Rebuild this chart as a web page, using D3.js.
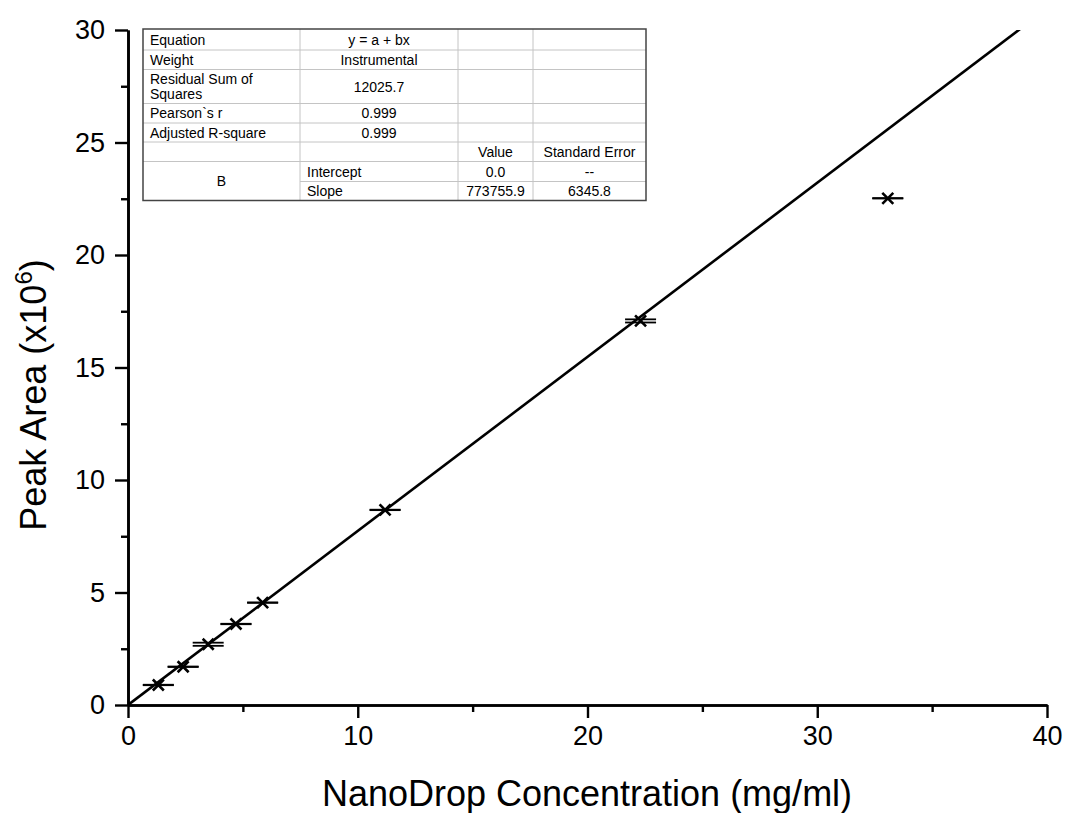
<!DOCTYPE html>
<html>
<head>
<meta charset="utf-8">
<script src="https://cdn.jsdelivr.net/npm/d3@7"></script>
<style>
  html, body { margin: 0; padding: 0; background: #fff; }
  svg { display: block; font-family: "Liberation Sans", Arial, sans-serif; }
</style>
</head>
<body>
<svg id="chart" width="1067" height="813"></svg>
<script>
// Calibration data: NanoDrop concentration (mg/ml) vs. peak area (x10^6)
const concentration = [1.32, 2.40, 3.49, 4.70, 5.86, 11.19, 22.31, 33.07];
const peakArea      = [0.89, 1.70, 2.70, 3.60, 4.55, 8.67, 17.07, 22.52];
const peakAreaErr   = [0.01, 0.01, 0.07, 0.01, 0.01, 0.01, 0.07, 0.01];

// Linear fit y = a + bx (peak area in raw units)
const fitIntercept = 0.0;
const fitSlope = 773755.9;

const xTicks = [0, 10, 20, 30, 40];
const yTicks = [0, 5, 10, 15, 20, 25, 30];
const xMinorTicks = [5, 15, 25, 35];
const yMinorTicks = [2.5, 7.5, 12.5, 17.5, 22.5, 27.5];

// Fit report table
const tableRows = [
  ["Equation", "y = a + bx", "", ""],
  ["Weight", "Instrumental", "", ""],
  ["Residual Sum of\nSquares", "12025.7", "", ""],
  ["Pearson`s r", "0.999", "", ""],
  ["Adjusted R-square", "0.999", "", ""],
  ["", "", "Value", "Standard Error"],
  ["B", "Intercept", "0.0", "--"],
  ["", "Slope", "773755.9", "6345.8"]
];

const svg = d3.select("#chart");
const plot = { left: 128, right: 1047, top: 30, bottom: 705 };

const x = d3.scaleLinear().domain([0, 40]).range([plot.left, plot.right]);
const y = d3.scaleLinear().domain([0, 30]).range([plot.bottom, plot.top]);

svg.append("defs").append("clipPath").attr("id", "plotClip")
  .append("rect")
  .attr("x", plot.left).attr("y", plot.top)
  .attr("width", plot.right - plot.left).attr("height", plot.bottom - plot.top);

// Fit line
const fitY = v => (fitIntercept + fitSlope * v) / 1e6;
svg.append("line")
  .attr("clip-path", "url(#plotClip)")
  .attr("x1", x(0)).attr("y1", y(fitY(0)))
  .attr("x2", x(40)).attr("y2", y(fitY(40)))
  .attr("stroke", "#000").attr("stroke-width", 2.6);

// Axes
const axisStyle = g => {
  g.select(".domain").attr("stroke", "#000").attr("stroke-width", 2.6);
  g.selectAll(".tick line").attr("stroke", "#000").attr("stroke-width", 2.4);
  g.selectAll(".tick text").attr("fill", "#000")
    .style("font-family", "'Liberation Sans', Arial, sans-serif")
    .style("font-size", "27px");
};

svg.append("g").attr("transform", `translate(0,${plot.bottom})`)
  .call(d3.axisBottom(x).tickValues(xMinorTicks).tickSize(7).tickFormat("").tickSizeOuter(0))
  .call(axisStyle);
svg.append("g").attr("transform", `translate(0,${plot.bottom})`)
  .call(d3.axisBottom(x).tickValues(xTicks).tickSize(13).tickPadding(8).tickFormat(d3.format("d")).tickSizeOuter(0))
  .call(axisStyle);

svg.append("g").attr("transform", `translate(${plot.left},0)`)
  .call(d3.axisLeft(y).tickValues(yMinorTicks).tickSize(7).tickFormat("").tickSizeOuter(0))
  .call(axisStyle);
svg.append("g").attr("transform", `translate(${plot.left},0)`)
  .call(d3.axisLeft(y).tickValues(yTicks).tickSize(13).tickPadding(10).tickFormat(d3.format("d")).tickSizeOuter(0))
  .call(axisStyle);

// Axis titles
svg.append("text")
  .attr("x", 587).attr("y", 806)
  .attr("text-anchor", "middle")
  .style("font-size", "36px")
  .text("NanoDrop Concentration (mg/ml)");

const yTitle = svg.append("text")
  .attr("transform", `translate(46,395) rotate(-90)`)
  .attr("text-anchor", "middle")
  .style("font-size", "36px");
yTitle.append("tspan").text("Peak Area (x10");
yTitle.append("tspan").attr("dy", -14).style("font-size", "24px").text("6");
yTitle.append("tspan").attr("dy", 14).text(")");

// Data points with error-bar caps
const pts = concentration.map((c, i) => ({ c, a: peakArea[i], e: peakAreaErr[i] }));
const capHalf = 15.5;
const marks = svg.append("g");
pts.forEach(p => {
  const cx = x(p.c), cy = y(p.a);
  [p.a + p.e, p.a - p.e].forEach(v => {
    marks.append("line")
      .attr("x1", cx - capHalf).attr("x2", cx + capHalf)
      .attr("y1", y(v)).attr("y2", y(v))
      .attr("stroke", "#000").attr("stroke-width", 1.8);
  });
  const s = 5.5;
  marks.append("path")
    .attr("d", `M${cx - s},${cy - s}L${cx + s},${cy + s}M${cx - s},${cy + s}L${cx + s},${cy - s}`)
    .attr("stroke", "#000").attr("stroke-width", 2.6).attr("fill", "none");
});

// Fit report table
const colX = [143, 300, 458, 533, 646];
const rowH = [21, 19.5, 34, 19.5, 19, 19.5, 20, 19];
const rowY = [29];
rowH.forEach(h => rowY.push(rowY[rowY.length - 1] + h));

const tbl = svg.append("g").style("font-size", "14px");
tbl.append("rect")
  .attr("x", colX[0]).attr("y", rowY[0])
  .attr("width", colX[4] - colX[0]).attr("height", rowY[8] - rowY[0])
  .attr("fill", "#fff");

// inner horizontal rules
for (let r = 1; r < 8; r++) {
  const x1 = r === 7 ? colX[1] : colX[0];
  tbl.append("line").attr("x1", x1).attr("x2", colX[4])
    .attr("y1", rowY[r]).attr("y2", rowY[r])
    .attr("stroke", "#c4c4c4").attr("stroke-width", 1);
}
// inner vertical rules
for (let c = 1; c < 4; c++) {
  tbl.append("line").attr("x1", colX[c]).attr("x2", colX[c])
    .attr("y1", rowY[0]).attr("y2", rowY[8])
    .attr("stroke", "#c4c4c4").attr("stroke-width", 1);
}
tbl.append("rect")
  .attr("x", colX[0]).attr("y", rowY[0])
  .attr("width", colX[4] - colX[0]).attr("height", rowY[8] - rowY[0])
  .attr("fill", "none").attr("stroke", "#444").attr("stroke-width", 1.5);

tableRows.forEach((row, r) => {
  row.forEach((cell, c) => {
    if (!cell) return;
    let top = rowY[r], bottom = rowY[r + 1];
    if (r === 6 && c === 0) bottom = rowY[8];
    const mid = (top + bottom) / 2;
    const leftAligned = (c === 0 && r < 6) || (c === 1 && r >= 6);
    const tx = leftAligned ? colX[c] + 7 : (colX[c] + colX[c + 1]) / 2;
    const lines = cell.split("\n");
    const t = tbl.append("text")
      .attr("text-anchor", leftAligned ? "start" : "middle")
      .attr("fill", "#000");
    lines.forEach((ln, i) => {
      t.append("tspan")
        .attr("x", tx)
        .attr("y", mid + 5 + (i - (lines.length - 1) / 2) * 15)
        .text(ln);
    });
  });
});
</script>
</body>
</html>
